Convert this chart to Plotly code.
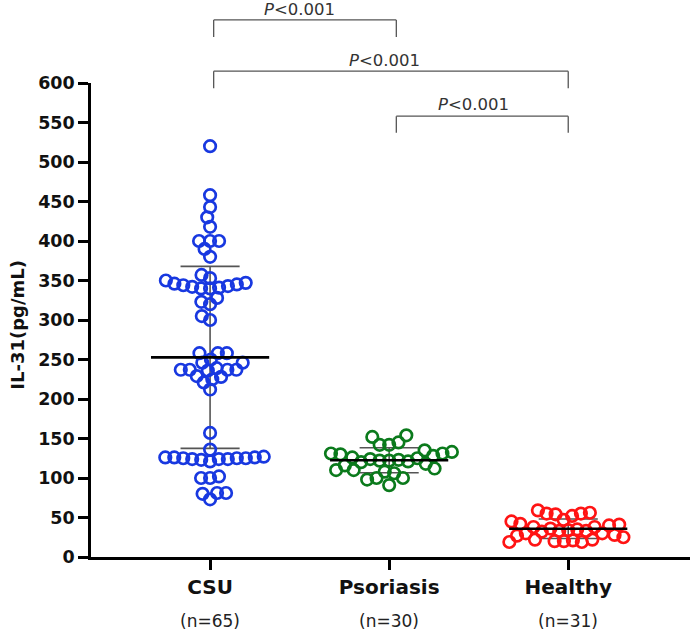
import numpy as np
import plotly.graph_objects as go

# ---------------- data ----------------
groups = ["CSU", "Psoriasis", "Healthy"]
group_n_labels = ["(n=65)", "(n=30)", "(n=31)"]

csu = [520, 458, 443, 430, 418, 400, 400, 400, 390, 380, 357,
       353, 346, 344, 342, 340, 340, 341, 343, 345, 347, 350,
       320, 323, 328, 300, 305,
       258, 258, 250, 258, 236, 239, 246, 237, 246, 237, 237, 237,
       225, 229, 228, 221, 212,
       157, 124, 126, 125, 123, 127, 125, 124, 126, 125, 121, 126, 136, 124,
       100, 102, 100, 73, 81, 80, 81]

psoriasis = [154, 152, 145, 142, 142, 135, 133, 131, 131, 130,
             128, 126, 124, 122, 122, 120, 121, 123, 125,
             118, 116, 112, 110, 110, 108, 106, 100, 100, 98, 91]

healthy = [47, 22, 55, 55, 56, 59, 54, 52, 19, 20, 20, 21, 19, 22,
           40, 33, 45, 42, 38, 36, 35, 34, 33, 32, 30, 28, 27, 25, 38, 41, 30]

values = [csu, psoriasis, healthy]
colors = ["#1838e0", "#0b7a1c", "#ff1414"]

y_ticks = list(range(0, 601, 50))
p_labels = ["<i>P</i>&lt;0.001", "<i>P</i>&lt;0.001", "<i>P</i>&lt;0.001"]

# ---------------- layout constants ----------------
W, H = 693, 637
ML, MR, MT, MB = 91, 3, 83, 80
XR = [-0.665, 2.68]
YR = [0, 600]
px_per_x = (W - ML - MR) / (XR[1] - XR[0])
px_per_y = (H - MT - MB) / (YR[1] - YR[0])

# swarm spacing per group (pixels): horizontal, vertical influence; ordering mode
swarm_w = [9.0, 9.5, 9.0]
swarm_h = [10.0, 12.5, 12.0]
swarm_order = ["value", "center", "center"]


def swarm(vals, w, h, mode):
    """Beeswarm layout: returns x offsets (category units) for each value."""
    v = np.array(vals, dtype=float)
    if mode == "center":
        order = np.argsort(np.abs(v - np.median(v)), kind="stable")
    else:
        order = np.argsort(v, kind="stable")
    ys = v * px_per_y
    placed = []
    offs = np.zeros(len(vals))
    for i in order:
        y = ys[i]
        cands = [0.0]
        for (xj, yj) in placed:
            dy = abs(y - yj)
            if dy < h:
                dx = w * np.sqrt(1 - (dy / h) ** 2)
                cands += [xj + dx, xj - dx]
        cands = sorted(set(round(c, 4) for c in cands), key=lambda c: (abs(c), c))
        best = 0.0
        for c in cands:
            ok = True
            for (xj, yj) in placed:
                dxn = (c - xj) / w
                dyn = (y - yj) / h
                if dxn * dxn + dyn * dyn < 0.999:
                    ok = False
                    break
            if ok:
                best = c
                break
        placed.append((best, y))
        offs[i] = best / px_per_x
    return offs


fig = go.Figure()

for gi, (vals, col) in enumerate(zip(values, colors)):
    v = np.array(vals, dtype=float)
    m = v.mean()
    sd = v.std(ddof=1)
    # SD error bar (thin gray)
    fig.add_trace(go.Scatter(
        x=[gi, gi, None, gi - 0.165, gi + 0.165, None, gi - 0.165, gi + 0.165],
        y=[m - sd, m + sd, None, m - sd, m - sd, None, m + sd, m + sd],
        mode="lines", line=dict(color="#555555", width=1.6),
        hoverinfo="skip", showlegend=False))
    # points
    offs = swarm(vals, swarm_w[gi], swarm_h[gi], swarm_order[gi])
    fig.add_trace(go.Scatter(
        x=gi + offs, y=v, mode="markers",
        marker=dict(symbol="circle-open", size=11.5, color=col,
                    line=dict(width=2.7, color=col)),
        showlegend=False, cliponaxis=False))
    # mean line
    fig.add_trace(go.Scatter(
        x=[gi - 0.33, gi + 0.33], y=[m, m], mode="lines",
        line=dict(color="black", width=2.6),
        hoverinfo="skip", showlegend=False))

# significance brackets: (x_left, x_right, top, leg bottom) in x units / paper
brackets = [(0.02, 1.04, 1.133, 1.097),
            (0.02, 2.00, 1.025, 0.989),
            (1.04, 2.00, 0.930, 0.895)]
label_pos = [(0.497, 1.155), (0.972, 1.048), (1.473, 0.955)]
for (x0, x1, top, bot), (lx, ly), txt in zip(brackets, label_pos, p_labels):
    for seg in [(x0, top, x1, top), (x0, top, x0, bot), (x1, top, x1, bot)]:
        fig.add_shape(type="line", xref="x", yref="paper",
                      x0=seg[0], y0=seg[1], x1=seg[2], y1=seg[3],
                      line=dict(color="#555555", width=1.3))
    fig.add_annotation(x=lx, y=ly, xref="x", yref="paper", text=txt,
                       showarrow=False, xanchor="center", yanchor="middle",
                       font=dict(family="DejaVu Sans", size=16.5, color="#333333"))

# n labels under categories
for gi, t in enumerate(group_n_labels):
    fig.add_annotation(x=gi, y=-0.135, xref="x", yref="paper", text=t,
                       showarrow=False, xanchor="center", yanchor="middle",
                       font=dict(family="DejaVu Sans", size=17, color="#222222"))

# y axis title
fig.add_annotation(x=(18 - ML) / (W - ML - MR), y=0.49, xref="paper", yref="paper",
                   text="IL-31(pg/mL)", textangle=-90, showarrow=False,
                   xanchor="center", yanchor="middle",
                   font=dict(family="DejaVu Sans", size=18, color="#111111", weight="bold"))

fig.update_layout(
    width=W, height=H,
    margin=dict(l=ML, r=MR, t=MT, b=MB),
    paper_bgcolor="white", plot_bgcolor="white",
    showlegend=False,
    xaxis=dict(range=XR, tickvals=[0, 1, 2], ticktext=groups,
               showline=True, linecolor="black", linewidth=2.6,
               ticks="outside", ticklen=10, tickwidth=2.6, tickcolor="black",
               showgrid=False, zeroline=False,
               tickfont=dict(family="DejaVu Sans", size=20, color="#111111", weight="bold")),
    yaxis=dict(range=YR, tickvals=y_ticks,
               showline=True, linecolor="black", linewidth=2.6,
               ticks="outside", ticklen=10, tickwidth=2.6, tickcolor="black",
               showgrid=False, zeroline=False,
               tickfont=dict(family="DejaVu Sans", size=17.5, color="#111111", weight="bold")),
)

fig.write_html("out.html",
               config={"displayModeBar": False},
               post_script="document.body.style.margin='0px';"
                           "document.body.style.overflow='hidden';")
